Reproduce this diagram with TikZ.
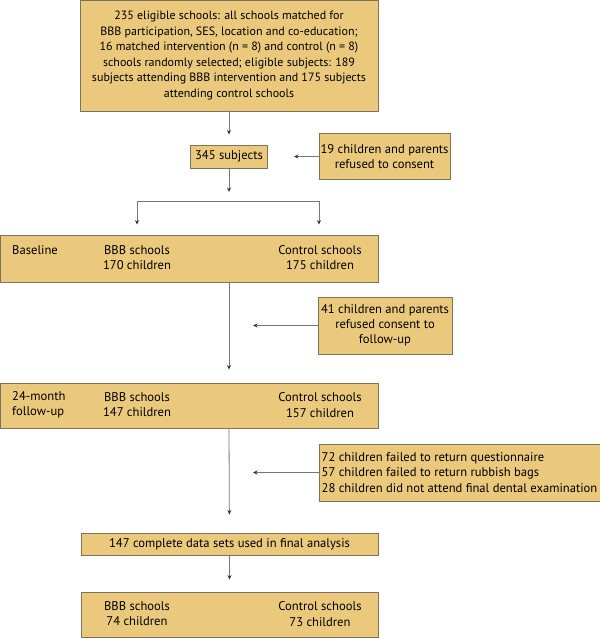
\documentclass[tikz,border=0pt]{standalone}
\usepackage{fontspec}
\setmainfont{PT Sans}
\usetikzlibrary{arrows.meta}
\definecolor{boxfill}{RGB}{234,201,124}
\definecolor{boxline}{RGB}{125,114,92}
\definecolor{conngray}{RGB}{118,118,118}

\begin{document}
\begin{tikzpicture}[x=1pt,y=-1pt]
	\tikzset{box/.style={draw=boxline,fill=boxfill,line width=0.9pt,inner sep=3pt,font=\fontsize{12.6}{15.2}\selectfont}}
	\tikzset{txt/.style={inner sep=0pt,align=center,font=\fontsize{12.6}{15.2}\selectfont}}
	\tikzset{conn/.style={draw=conngray,line width=0.8pt,-{Stealth[length=4.5pt,width=4pt,color=black!80]}}}
	\tikzset{plain/.style={draw=conngray,line width=0.8pt}}

	\useasboundingbox (0,0) rectangle (600,638);

	\node[box,minimum width=298pt,minimum height=111pt,align=center,font=\fontsize{12}{15.6}\selectfont] (top) at (229,55.5)
		{235 eligible schools: all schools matched for\\
		 BBB participation, SES, location and co-education;\\
		 16 matched intervention (n = 8) and control (n = 8)\\
		 schools randomly selected; eligible subjects: 189\\
		 subjects attending BBB intervention and 175 subjects\\
		 attending control schools};
	\node[box,minimum width=77pt,minimum height=23pt] (subj) at (229,156.5) {345 subjects};
	\node[box,inner sep=1.5pt,minimum width=131pt,minimum height=46pt,align=center] (ref1) at (384.5,156.5)
		{19 children and parents\\refused to consent};

	% baseline
	\node[box,minimum width=378pt,minimum height=47pt] (base) at (189,258.5) {};
	\node[txt,anchor=west] (b0) at (12,250) {Baseline};
	\node[txt] (b1) at (137,257.5) {BBB schools\\170 children};
	\node[txt] (b2) at (320,257.5) {Control schools\\175 children};

	\node[box,minimum width=132pt,minimum height=57pt,align=center] (ref2) at (385,325.5)
		{41 children and parents\\refused consent to\\follow-up};

	% follow-up
	\node[box,minimum width=378pt,minimum height=45pt] (fu) at (189,405.5) {};
	\node[txt,anchor=west,align=left] (f0) at (12,405) {24-month\\follow-up};
	\node[txt] (f1) at (137,405) {BBB schools\\147 children};
	\node[txt] (f2) at (320,405) {Control schools\\157 children};

	\node[box,inner sep=2pt,minimum width=281pt,minimum height=57pt,align=left] (ref3) at (459.5,472.5)
		{72 children failed to return questionnaire\\
		 57 children failed to return rubbish bags\\
		 28 children did not attend final dental examination};

	\node[box,minimum width=297pt,minimum height=22pt] (fin) at (229.5,544)
		{147 complete data sets used in final analysis};
	\node[box,minimum width=297pt,minimum height=45pt] (res) at (229.5,614.5) {};
	\node[txt] (r1) at (137,614) {BBB schools\\74 children};
	\node[txt] (r2) at (320,614) {Control schools\\73 children};

	\coordinate (sp) at (229,201);
	\coordinate (spl) at (137,201);
	\coordinate (spr) at (319,201);

	\draw[conn,shorten >=10pt] (top) -- (subj);
	\draw[conn,shorten >=26pt] (ref1) -- (subj);
	\draw[conn,shorten >=9pt] (subj) -- (sp);
	\draw[plain] (spl) -- (spr);
	\draw[conn,shorten >=10pt] (spl) -- (spl |- base.north);
	\draw[conn,shorten >=10pt] (spr) -- (spr |- base.north);
	\draw[conn,shorten >=13pt] (base.south -| subj) -- (fu.north -| subj);
	\draw[conn,shorten >=24pt] (ref2.west) -- (ref2.west -| subj);
	\draw[conn,shorten >=18pt] (fu.south -| subj) -- (fin);
	\draw[conn,shorten >=24pt] (ref3.west) -- (ref3.west -| subj);
	\draw[conn,shorten >=12pt] (fin) -- (res);
\end{tikzpicture}
\end{document}
